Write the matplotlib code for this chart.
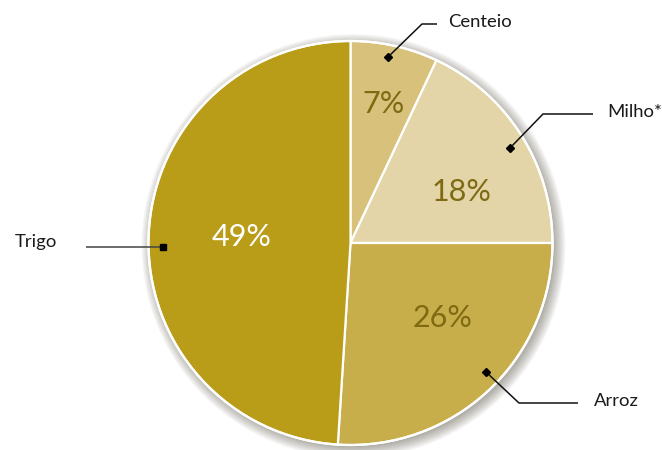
import matplotlib
matplotlib.use("Agg")
import matplotlib.pyplot as plt
from matplotlib.patches import Circle
import numpy as np

categories = ["Centeio", "Milho*", "Arroz", "Trigo"]
values = [7, 18, 26, 49]
colors = ["#d8c17a", "#e3d5a8", "#c8ae4a", "#b99c17"]
pct_colors = ["#7d6a12", "#7d6a12", "#7d6a12", "#ffffff"]

# layout (pixels, y from top)
W, H = 662, 450
cx, cy, R = 350.5, 243, 202
pct_pos = [(383, 104), (461, 192), (443, 318), (242, 237)]
# leader: dot, elbow, line end, text x, marker
leaders = [
    ((388, 57), (422, 24), (437, 24), 448, "D"),
    ((510, 148), (543, 114), (593, 114), 607, "D"),
    ((486, 372), (519, 403), (578, 403), 594, "D"),
    ((163, 247), (163, 247), (86, 247), 15, "s"),
]

plt.rcParams['font.family'] = ['Lato', 'DejaVu Sans']
fig = plt.figure(figsize=(W / 100, H / 100), dpi=100)
ax = fig.add_axes([0, 0, 1, 1])
ax.set_xlim(0, W)
ax.set_ylim(0, H)
ax.set_aspect('auto')
ax.axis('off')

def Y(y):
    return H - y

# shadow
for i in range(14):
    r = R + 10 - i * 0.85
    ax.add_patch(Circle((cx + 3, Y(cy) - 3), r, color="#3a3520", alpha=0.03, lw=0, zorder=1))

wedges, _ = ax.pie(values, colors=colors, startangle=90, counterclock=False,
                   center=(cx, Y(cy)), radius=R, frame=True,
                   wedgeprops=dict(edgecolor="white", linewidth=1.6, zorder=2))
for w in wedges:
    w.set_zorder(2)
ax.add_patch(Circle((cx, Y(cy)), R, fill=False, edgecolor="white", lw=1.6, zorder=3))
ax.set_xlim(0, W)
ax.set_ylim(0, H)
ax.axis('off')

for v, (px, py), c in zip(values, pct_pos, pct_colors):
    ax.text(px, Y(py), f"{v}%", ha="center", va="center", fontsize=22, color=c, zorder=5)

for name, (dot, elbow, end, tx, mk) in zip(categories, leaders):
    xs = [dot[0], elbow[0], end[0]]
    ys = [Y(dot[1]), Y(elbow[1]), Y(end[1])]
    ax.plot(xs, ys, color="#111111" if mk == "D" else "#444444", lw=1.1, zorder=6, solid_capstyle="butt")
    ax.plot([dot[0]], [Y(dot[1])], marker=mk, color="black", markersize=4 if mk == "D" else 4.5, zorder=7)
    ax.text(tx, Y(end[1]) + 2 if mk == "D" else Y(end[1]) + 5, name, ha="left", va="center",
            fontsize=13.3, color="#1a1a1a", zorder=7)

fig.savefig("out.png", dpi=100)
